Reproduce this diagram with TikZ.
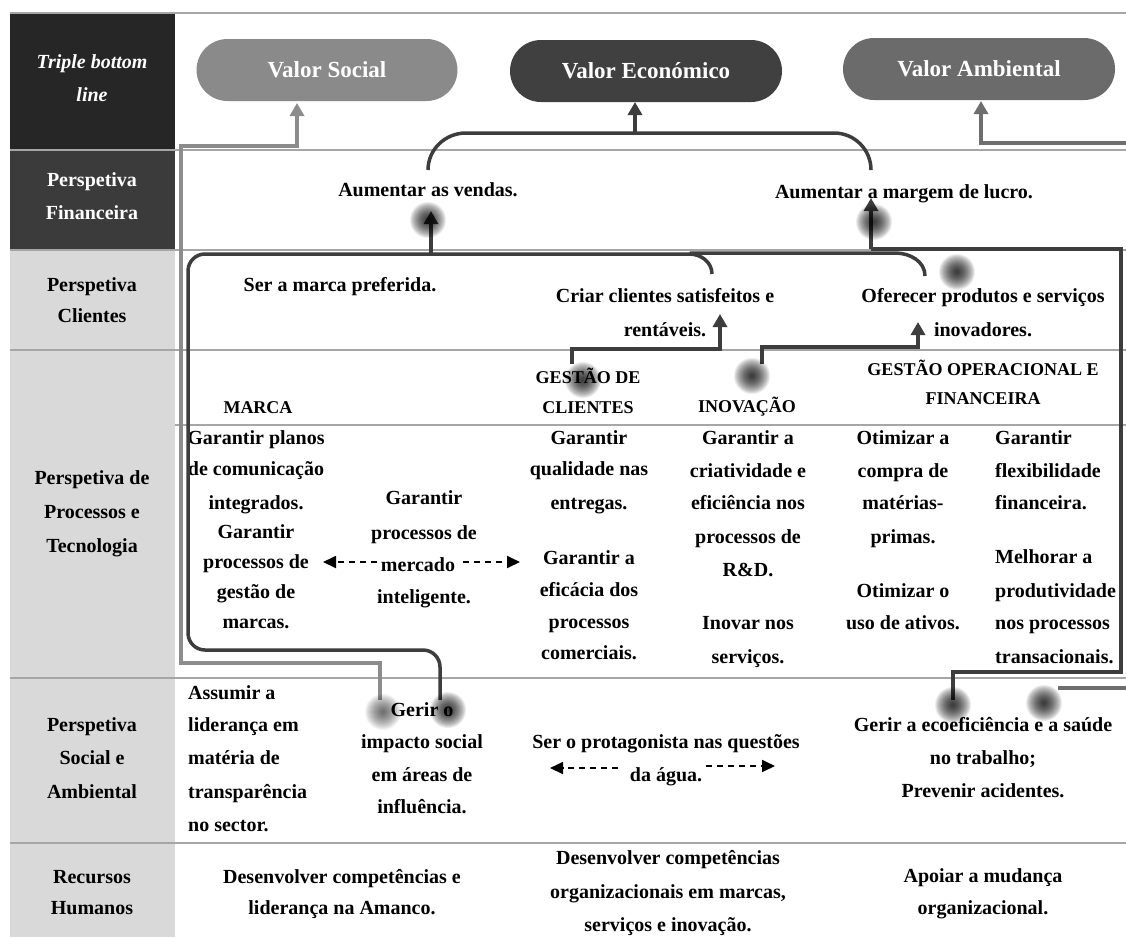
\documentclass[tikz,border=0pt]{standalone}
\usepackage{fontspec}
\setmainfont{Liberation Serif}
\usetikzlibrary{arrows.meta}
\definecolor{dk}{HTML}{3D3D3D}
\definecolor{sg}{HTML}{8C8C8C}
\definecolor{ag}{HTML}{6E6E6E}
\definecolor{rulec}{HTML}{A6A6A6}
\definecolor{lc}{HTML}{D9D9D9}
\definecolor{cA}{HTML}{262626}
\definecolor{cB}{HTML}{3B3B3B}
\definecolor{pS}{HTML}{8A8A8A}
\definecolor{pE}{HTML}{404040}
\definecolor{pA}{HTML}{6B6B6B}
\tikzset{
 txt/.style={font=\bfseries\fontsize{20}{24}\selectfont, inner sep=0pt, anchor=base},
 txtl/.style={txt, anchor=base west},
 hdr/.style={font=\bfseries\fontsize{18}{22}\selectfont, inner sep=0pt, anchor=base},
 pill/.style={rounded corners=31pt, minimum height=62pt, inner sep=0pt, text=white, font=\bfseries\fontsize{23}{27}\selectfont},
 conn/.style={line width=3.5pt, draw=dk},
 arr/.style={-{Triangle[width=14pt,length=13pt]}},
 dsh/.style={line width=1.8pt, dash pattern=on 6pt off 5pt, -{Triangle[width=12pt,length=13pt]}},
 rl/.style={line width=1.5pt, draw=rulec},
}
\newcommand\tlines[4][txt]{\foreach \yy/\tx [count=\ii] in {#4}{\node[#1] (#2-\ii) at (#3,\yy+6) {\tx};}}
\newcommand\myblob[3][0.075]{\foreach \rr in {18,17,...,2}{\fill[black,opacity=#1] (#2,#3) circle[radius=\rr pt];}}
\begin{document}
\begin{tikzpicture}[x=1pt,y=-1pt]
\useasboundingbox (0,0) rectangle (1126,937);
\fill[white] (0,0) rectangle (1126,937);
% left column
\fill[cA] (10,13) rectangle (175,150);
\fill[cB] (10,150) rectangle (175,250);
\fill[lc] (10,250) rectangle (175,937);
% rules
\draw[rl] (10,13) -- (1126,13);
\draw[rl] (10,150) -- (1126,150);
\draw[rl] (10,250) -- (1126,250);
\draw[rl] (10,350) -- (1126,350);
\draw[rl] (175,425) -- (1126,425);
\draw[rl] (10,678) -- (1126,678);
\draw[rl] (10,843) -- (1126,843);
% pills
\node[pill, fill=pS, minimum width=261pt] (social) at (327,70) {Valor Social};
\node[pill, fill=pE, minimum width=272pt] (econ) at (646,71) {Valor Económico};
\node[pill, fill=pA, minimum width=272pt] (amb) at (979,69) {Valor Ambiental};
% left labels
\tlines[txt,text=white,font=\bfseries\itshape\fontsize{20}{24}\selectfont]{L1}{92}{62/{Triple bottom},95/line}
\tlines[txt,text=white]{L2}{92}{180/Perspetiva,213/Financeira}
\tlines{L3}{92}{285/Perspetiva,316/Clientes}
\tlines{L4}{92}{478/{Perspetiva de},512/{Processos e},546/Tecnologia}
\tlines{L5}{92}{725/Perspetiva,758/{Social e},792/Ambiental}
\tlines{L6}{92}{877/Recursos,908/Humanos}
% row 2
\tlines{f1}{428}{190/{Aumentar as vendas.}}
\tlines{f2}{904}{192/{Aumentar a margem de lucro.}}
% row 3
\tlines{c1}{340}{285/{Ser a marca preferida.}}
\tlines{c2}{665}{296/{Criar clientes satisfeitos e},330/{rentáveis.}}
\tlines{c3}{983}{296/{Oferecer produtos e serviços},330/{inovadores.}}
% row 4 headers
\tlines[hdr]{h1}{258}{407/MARCA}
\tlines[hdr]{h2}{588}{377/{GESTÃO DE},407/CLIENTES}
\tlines[hdr]{h3}{747}{406/INOVAÇÃO}
\tlines[hdr]{h4}{983}{369/{GESTÃO OPERACIONAL E},398/FINANCEIRA}
% row 4 content
\tlines{m1}{256}{438/{Garantir planos},469/{de comunicação},503/{integrados.}}
\tlines{m2}{256}{532/Garantir,562/{processos de},592/{gestão de},622/{marcas.}}
\tlines{m3}{424}{498/Garantir,533/{processos de}}
\tlines{m4}{418}{565/mercado}
\tlines{m5}{424}{597/{inteligente.}}
\tlines{g1}{589}{438/Garantir,469/{qualidade nas},503/{entregas.}}
\tlines{g2}{589}{558/{Garantir a},590/{eficácia dos},622/processos,653/{comerciais.}}
\tlines{i1}{748}{438/{Garantir a},471/{criatividade e},503/{eficiência nos},537/{processos de},570/{R\&D.}}
\tlines{i2}{748}{623/{Inovar nos},657/{serviços.}}
\tlines{o1}{903}{438/{Otimizar a},471/{compra de},503/{matérias-},537/{primas.}}
\tlines{o2}{903}{591/{Otimizar o},623/{uso de ativos.}}
\tlines[txtl]{o3}{995}{438/Garantir,471/flexibilidade,503/{financeira.}}
\tlines[txtl]{o4}{995}{557/{Melhorar a},591/produtividade,623/{nos processos},657/{transacionais.}}
% row 5
\tlines[txtl]{s1}{188}{693/{Assumir a},725/{liderança em},758/{matéria de},792/transparência,825/{no sector.}}
\tlines{s2}{422}{710/{Gerir o},742/{impacto social},775/{em áreas de},807/{influência.}}
\tlines{s3}{666}{742/{Ser o protagonista nas questões},775/{da água.}}
\tlines{s4}{983}{725/{Gerir a ecoeficiência e a saúde},758/{no trabalho;},791/{Prevenir acidentes.}}
% row 6
\tlines{r1}{342}{877/{Desenvolver competências e},908/{liderança na Amanco.}}
\tlines{r2}{668}{858/{Desenvolver competências},892/{organizacionais em marcas,},925/{serviços e inovação.}}
\tlines{r3}{983}{876/{Apoiar a mudança},908/{organizacional.}}
% connectors
\coordinate (sgS) at (380,700);
\draw[conn, draw=sg, arr] (sgS) -- (380,663) -- (181,663) -- (181,146) -- (297,146) -- (297,103);
\coordinate (agS) at (1126,143);
\draw[conn, draw=ag, arr] (agS) -- (981,143) -- (981,101);
\coordinate (agT) at (1058,688);
\draw[conn, draw=ag] (agT) -- (1126,688);
\draw[conn] (428,170) to[out=90,in=180] (466,133) -- (834,133) to[out=0,in=90] (871,170);
\draw[conn, arr] (635,133) -- (635,102);
\draw[conn, arr] (431,255) -- (431,211);
\coordinate (frS) at (440,700);
\draw[conn, rounded corners=17pt] (frS) -- (440,650) -- (188,650) -- (188,254) -- (690,254);
\draw[conn] (689,254) to[out=0,in=90] (712,274);
\draw[conn] (690,253) -- (895,253) to[out=0,in=90] (925,276);
\draw[conn, arr] (871,249) -- (871,198);
\coordinate (frR) at (953,700);
\draw[conn] (871,249) -- (1121,249) -- (1121,672) -- (953,672) -- (frR);
\draw[conn, arr] (572,364) -- (572,349) -- (720,349) -- (720,314);
\draw[conn, arr] (762,364) -- (762,347) -- (918,347) -- (918,322);
\draw[dsh] (377,562) -- (323,562);
\draw[dsh] (463,562) -- (520,562);
\draw[dsh] (618,768) -- (550,768);
\draw[dsh] (706,766) -- (775,766);
% blurred spots
\myblob{428}{220}
\myblob{874}{222}
\myblob{957}{272}
\myblob{583}{380}
\myblob{752}{376}
\myblob[0.045]{383}{712}
\myblob{448}{710}
\myblob{953}{705}
\myblob{1044}{703}
\end{tikzpicture}
\end{document}
